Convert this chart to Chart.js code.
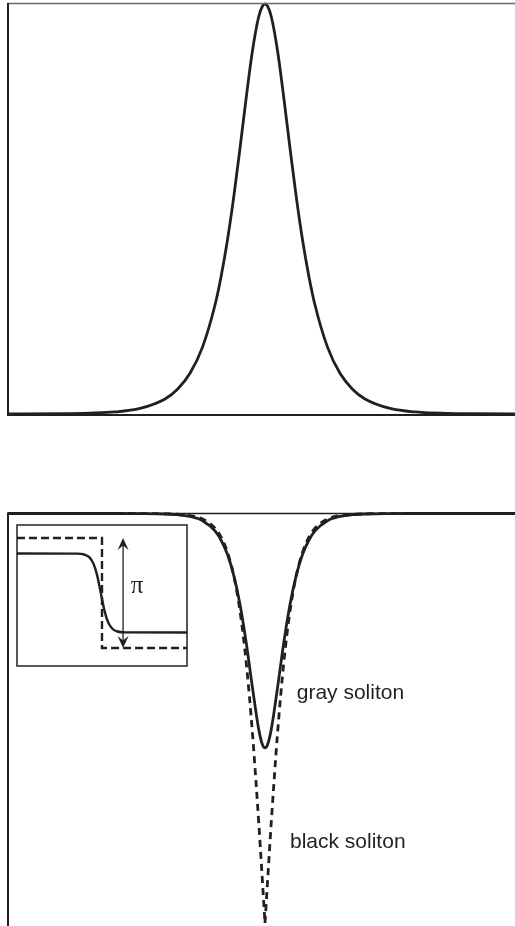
<!DOCTYPE html>
<html>
<head>
<meta charset="utf-8">
<script src="https://cdn.jsdelivr.net/npm/chart.js@4/dist/chart.umd.min.js"></script>
<style>
  html, body { margin: 0; padding: 0; background: #fff; overflow: hidden; width: 515px; height: 926px; }
  canvas { position: absolute; }
  #bright { left: 0; top: 0; }
  #dark { left: 0; top: 500px; }
  #phase { left: 15px; top: 523px; }
</style>
</head>
<body>
<canvas id="bright" width="530" height="420"></canvas>
<canvas id="dark" width="530" height="426"></canvas>
<canvas id="phase" width="175" height="145"></canvas>
<script>
// Sample positions along x (soliton widths)
const xs = [-10.28, -8, -6, -5, -4, -3.5, -3, -2.5, -2, -1.75, -1.5, -1.25, -1, -0.75, -0.5, -0.25, -0.1, 0,
            0.1, 0.25, 0.5, 0.75, 1, 1.25, 1.5, 1.75, 2, 2.5, 3, 3.5, 4, 5, 6, 8, 10.6];

// Bright soliton amplitude |psi|
const brightAmp = [0.0001, 0.0007, 0.0050, 0.0135, 0.0366, 0.0603, 0.0993, 0.1631, 0.2658, 0.3374, 0.4251, 0.5295, 0.6481, 0.7724, 0.8868, 0.9695, 0.9950, 1,
                   0.9950, 0.9695, 0.8868, 0.7724, 0.6481, 0.5295, 0.4251, 0.3374, 0.2658, 0.1631, 0.0993, 0.0603, 0.0366, 0.0135, 0.0050, 0.0007, 0.0001];

// Black (dark) soliton amplitude, left and right branches meeting at the node
const blackX_left  = [-10.28, -8, -6, -5, -4, -3.5, -3, -2.5, -2, -1.75, -1.5, -1.25, -1, -0.75, -0.5, -0.25, 0];
const blackAmp_left = [1, 1, 1, 0.9999, 0.9993, 0.9982, 0.9951, 0.9866, 0.9640, 0.9414, 0.9051, 0.8483, 0.7616, 0.6351, 0.4621, 0.2449, 0];
const blackX_right  = [0, 0.25, 0.5, 0.75, 1, 1.25, 1.5, 1.75, 2, 2.5, 3, 3.5, 4, 5, 6, 8, 10.6];
const blackAmp_right = [0, 0.2449, 0.4621, 0.6351, 0.7616, 0.8483, 0.9051, 0.9414, 0.9640, 0.9866, 0.9951, 0.9982, 0.9993, 0.9999, 1, 1, 1];

// Gray soliton amplitude
const grayAmp = [1, 1, 1, 0.9998, 0.9988, 0.9971, 0.9928, 0.9824, 0.9574, 0.9341, 0.8998, 0.8488, 0.7780, 0.6841, 0.5742, 0.4727, 0.4355, 0.428,
                 0.4355, 0.4727, 0.5742, 0.6841, 0.7780, 0.8488, 0.8998, 0.9341, 0.9574, 0.9824, 0.9928, 0.9971, 0.9988, 0.9998, 1, 1, 1];

// Inset: phase profiles
const blackPhaseX = [0, 5, 5, 10];
const blackPhase  = [1.5708, 1.5708, -1.5708, -1.5708];
const grayPhaseX  = [0, 3.5, 4.0, 4.25, 4.5, 4.7, 4.93, 5.16, 5.36, 5.61, 5.86, 6.36, 10];
const grayPhase   = [1.128, 1.125, 1.093, 1.023, 0.837, 0.531, 0, -0.531, -0.837, -1.023, -1.093, -1.125, -1.128];

const INK = '#231f20';

const pts = (xv, yv) => xv.map((x, i) => ({ x: x, y: yv[i] }));

// Draws the panel frame lines on chosen sides
const framePlugin = {
  id: 'frame',
  afterDraw(chart, args, opts) {
    const { ctx, chartArea: a } = chart;
    ctx.save();
    ctx.lineCap = 'butt';
    (opts.lines || []).forEach(l => {
      ctx.strokeStyle = l.color || INK;
      ctx.lineWidth = l.width || 1.5;
      ctx.beginPath();
      if (l.side === 'top') { ctx.moveTo(a.left - 1, a.top + (l.offset || 0)); ctx.lineTo(a.right, a.top + (l.offset || 0)); }
      if (l.side === 'bottom') { ctx.moveTo(a.left - 1, a.bottom + (l.offset || 0)); ctx.lineTo(a.right, a.bottom + (l.offset || 0)); }
      if (l.side === 'left') { ctx.moveTo(a.left, a.top - 1); ctx.lineTo(a.left, l.to === 'canvasBottom' ? chart.height : a.bottom + 2); }
      if (l.side === 'box') { ctx.strokeRect(a.left, a.top, a.right - a.left, a.bottom - a.top); }
      ctx.stroke();
    });
    ctx.restore();
  }
};

// Text labels and arrows placed in data coordinates
const notesPlugin = {
  id: 'notes',
  afterDatasetsDraw(chart, args, opts) {
    const { ctx, scales: { x, y } } = chart;
    ctx.save();
    (opts.texts || []).forEach(t => {
      ctx.fillStyle = INK;
      ctx.font = t.font;
      ctx.textAlign = t.align || 'left';
      ctx.textBaseline = t.baseline || 'alphabetic';
      ctx.fillText(t.text, x.getPixelForValue(t.x), y.getPixelForValue(t.y));
    });
    (opts.arrows || []).forEach(ar => {
      const px = x.getPixelForValue(ar.x);
      const y1 = y.getPixelForValue(ar.from);
      const y2 = y.getPixelForValue(ar.to);
      ctx.strokeStyle = INK;
      ctx.fillStyle = INK;
      ctx.lineWidth = 1.3;
      ctx.beginPath();
      ctx.moveTo(px, y1 + 2);
      ctx.lineTo(px, y2 - 2);
      ctx.stroke();
      const head = (ty, dir) => {
        ctx.beginPath();
        ctx.moveTo(px, ty);
        ctx.lineTo(px - 5.5, ty + dir * 12);
        ctx.lineTo(px, ty + dir * 7.5);
        ctx.lineTo(px + 5.5, ty + dir * 12);
        ctx.closePath();
        ctx.fill();
      };
      head(y1, 1);
      head(y2, -1);
    });
    ctx.restore();
  }
};

const baseOptions = (xmin, xmax, ymin, ymax, padding, plugins) => ({
  responsive: false,
  animation: false,
  devicePixelRatio: 1,
  events: [],
  layout: { padding: padding },
  scales: {
    x: { type: 'linear', min: xmin, max: xmax, display: false },
    y: { type: 'linear', min: ymin, max: ymax, display: false }
  },
  elements: { point: { radius: 0 } },
  plugins: Object.assign({ legend: { display: false }, tooltip: { enabled: false } }, plugins)
});

// Upper panel: bright soliton
new Chart(document.getElementById('bright'), {
  type: 'line',
  data: {
    datasets: [{
      data: pts(xs, brightAmp),
      borderColor: INK, borderWidth: 2.8, cubicInterpolationMode: 'monotone', clip: false, fill: false
    }]
  },
  options: baseOptions(-10.28, 10.6, 0, 1, { left: 8, right: 0, top: 4, bottom: 6 }, {
    frame: { lines: [
      { side: 'top', offset: -0.5, color: '#6a6a6a', width: 1.5 },
      { side: 'bottom', offset: 1, color: INK, width: 2.2 },
      { side: 'left', color: INK, width: 2 }
    ] }
  }),
  plugins: [framePlugin]
});

// Lower panel: gray and black solitons
new Chart(document.getElementById('dark'), {
  type: 'line',
  data: {
    datasets: [
      { data: pts(xs, grayAmp), borderColor: INK, borderWidth: 2.8, cubicInterpolationMode: 'monotone', clip: false, fill: false },
      { data: pts(blackX_left, blackAmp_left), borderColor: INK, borderWidth: 2.8, borderDash: [7, 5], cubicInterpolationMode: 'monotone', clip: false, fill: false },
      { data: pts(blackX_right, blackAmp_right), borderColor: INK, borderWidth: 2.8, borderDash: [7, 5], cubicInterpolationMode: 'monotone', clip: false, fill: false }
    ]
  },
  options: baseOptions(-10.28, 10.6, 0, 1, { left: 8, right: 0, top: 13.5, bottom: 3 }, {
    frame: { lines: [
      { side: 'top', color: INK, width: 1.6 },
      { side: 'left', color: INK, width: 2, to: 'canvasBottom' }
    ] },
    notes: { texts: [
      { text: 'gray soliton', x: 1.27, y: 0.547, font: '21px "Liberation Sans", Arial, sans-serif' },
      { text: 'black soliton', x: 1.0, y: 0.182, font: '21px "Liberation Sans", Arial, sans-serif' }
    ] }
  }),
  plugins: [framePlugin, notesPlugin]
});

// Inset: phase across the soliton
new Chart(document.getElementById('phase'), {
  type: 'line',
  data: {
    datasets: [
      { data: pts(blackPhaseX, blackPhase), borderColor: INK, borderWidth: 2.4, borderDash: [8, 4], tension: 0, clip: false, fill: false },
      { data: pts(grayPhaseX, grayPhase), borderColor: INK, borderWidth: 2.4, cubicInterpolationMode: 'monotone', clip: false, fill: false }
    ]
  },
  options: baseOptions(0, 10, -2.086, 1.943, { left: 2, right: 3, top: 2, bottom: 2 }, {
    frame: { lines: [ { side: 'box', color: INK, width: 1.5 } ] },
    notes: {
      texts: [ { text: 'π', x: 7.06, y: 0.2, font: '25px "Liberation Serif", "Times New Roman", serif', align: 'center', baseline: 'middle' } ],
      arrows: [ { x: 6.24, from: 1.5708, to: -1.5708 } ]
    }
  }),
  plugins: [framePlugin, notesPlugin]
});
</script>
</body>
</html>
